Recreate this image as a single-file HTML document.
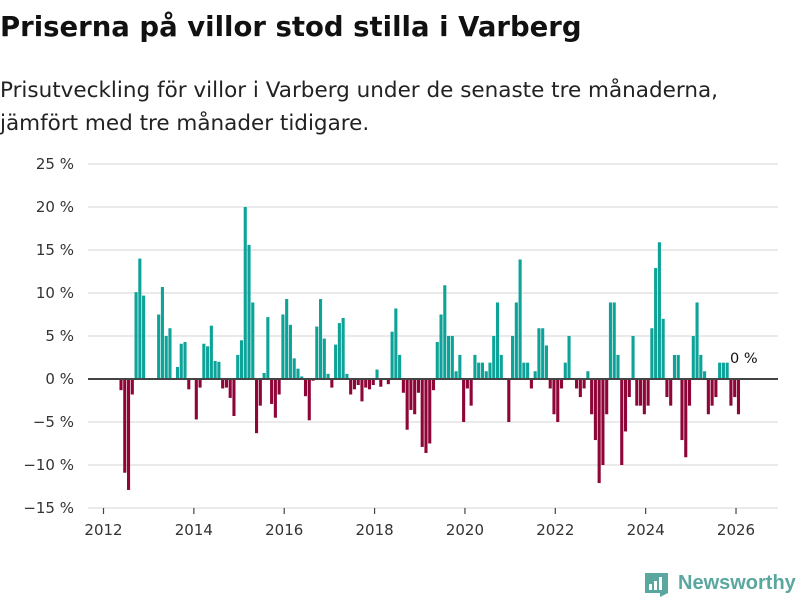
<!DOCTYPE html>
<html><head><meta charset="utf-8"><style>
body{margin:0;background:#fff;width:800px;height:600px;overflow:hidden;font-family:"Liberation Sans","DejaVu Sans",sans-serif;}
svg text{font-family:"DejaVu Sans","Liberation Sans",sans-serif;}
</style></head><body>
<svg id="chart" width="800" height="600" xmlns="http://www.w3.org/2000/svg">
<text x="0" y="36" font-size="27.5" font-weight="bold" fill="#111">Priserna på villor stod stilla i Varberg</text>
<text x="0" y="97" font-size="21.5" fill="#222" textLength="718" lengthAdjust="spacingAndGlyphs">Prisutveckling för villor i Varberg under de senaste tre månaderna,</text>
<text x="0" y="130" font-size="21.5" fill="#222">jämfört med tre månader tidigare.</text>
<g id="grid"></g>
<g id="bars"></g>
<g id="xaxis"></g>
<text x="730" y="363" font-size="14.5" fill="#111">0 %</text>
<g>
<path d="M645 573 h23 v20 l-8 4 v-4 h-15 z" fill="#5aa79f"/>
<rect x="649" y="584" width="3" height="6" fill="#fff"/><rect x="654" y="581" width="3" height="9" fill="#fff"/><rect x="659" y="577" width="3" height="13" fill="#fff"/>
<text x="678" y="589" font-size="20" font-weight="bold" fill="#5aa79f" style="font-family:'Liberation Sans',sans-serif">Newsworthy</text>
</g>
</svg>
<script>
const yTicks=[25,20,15,10,5,0,-5,-10,-15];
const yTickLabels=["25 %","20 %","15 %","10 %","5 %","0 %","−5 %","−10 %","−15 %"];
const xYears=[2012,2014,2016,2018,2020,2022,2024,2026];
const startYear=2012, startMonth=4; // May 2012 (0-based month)
const values=[-1.3,-10.9,-12.9,-1.8,10.1,14.0,9.7,0,0,0,7.5,10.7,5.0,5.9,0,1.4,4.1,4.3,-1.2,0,-4.7,-1.0,4.1,3.8,6.2,2.1,2.0,-1.1,-1.0,-2.2,-4.3,2.8,4.5,20.0,15.6,8.9,-6.3,-3.1,0.7,7.2,-2.9,-4.5,-1.8,7.5,9.3,6.3,2.4,1.2,0.3,-2.0,-4.8,-0.2,6.1,9.3,4.7,0.6,-1.0,4.0,6.5,7.1,0.6,-1.8,-1.2,-0.7,-2.6,-1.0,-1.2,-0.7,1.1,-0.9,0,-0.6,5.5,8.2,2.8,-1.6,-5.9,-3.6,-4.1,-1.6,-7.9,-8.6,-7.5,-1.3,4.3,7.5,10.9,5.0,5.0,0.9,2.8,-5.0,-1.1,-3.1,2.8,1.9,1.9,0.9,1.9,5.0,8.9,2.8,0,-5.0,5.0,8.9,13.9,1.9,1.9,-1.1,0.9,5.9,5.9,3.9,-1.1,-4.1,-5.0,-1.1,1.9,5.0,0,-1.1,-2.1,-1.1,0.9,-4.1,-7.1,-12.1,-10.0,-4.1,8.9,8.9,2.8,-10.0,-6.1,-2.1,5.0,-3.1,-3.1,-4.1,-3.1,5.9,12.9,15.9,7.0,-2.1,-3.1,2.8,2.8,-7.1,-9.1,-3.1,5.0,8.9,2.8,0.9,-4.1,-3.1,-2.1,1.9,1.9,1.9,-3.1,-2.1,-4.1,0];
const NS="http://www.w3.org/2000/svg";
function y(v){return 379-v*8.6;}
function xm(monthsSince2012){return 103.5+monthsSince2012*3.765;}
const grid=document.getElementById('grid');
yTicks.forEach((t,i)=>{
  const l=document.createElementNS(NS,'line');
  
  
  l.setAttribute('x1',88);l.setAttribute('x2',778);l.setAttribute('y1',y(t));l.setAttribute('y2',y(t));
  l.setAttribute('stroke','#dedede');l.setAttribute('stroke-width',1.3);
  grid.appendChild(l);
  const tx=document.createElementNS(NS,'text');
  
  
  tx.setAttribute('x',74);tx.setAttribute('y',y(t)+5);tx.setAttribute('text-anchor','end');
  tx.setAttribute('font-size','15');tx.setAttribute('fill','#333');
  tx.textContent=yTickLabels[i];grid.appendChild(tx);
});
const bars=document.getElementById('bars');
values.forEach((v,i)=>{
  const r=document.createElementNS(NS,'rect');
  
  
  const x=xm(startMonth+i)+0.9;
  r.setAttribute('x',x);r.setAttribute('width',3.1);
  r.setAttribute('y',Math.min(y(v),y(0)));r.setAttribute('height',Math.abs(y(v)-y(0)));
  r.setAttribute('fill',v>=0?'#0ea399':'#8e0538');
  bars.appendChild(r);
});
const zl=document.createElementNS(NS,'line');


zl.setAttribute('x1',88);zl.setAttribute('x2',778);zl.setAttribute('y1',y(0));zl.setAttribute('y2',y(0));
zl.setAttribute('stroke','#444');zl.setAttribute('stroke-width',2);
bars.appendChild(zl);
const xa=document.getElementById('xaxis');
xYears.forEach(yr=>{
  const x=xm((yr-startYear)*12);
  const tk=document.createElementNS(NS,'line');
  
  
  tk.setAttribute('x1',x);tk.setAttribute('x2',x);tk.setAttribute('y1',508);tk.setAttribute('y2',514);
  tk.setAttribute('stroke','#444');tk.setAttribute('stroke-width',1.2);xa.appendChild(tk);
  const tx=document.createElementNS(NS,'text');
  
  
  tx.setAttribute('x',x);tx.setAttribute('y',535);tx.setAttribute('text-anchor','middle');
  tx.setAttribute('font-size','15');tx.setAttribute('fill','#333');
  tx.textContent=yr;xa.appendChild(tx);
});
</script>
</body></html>
